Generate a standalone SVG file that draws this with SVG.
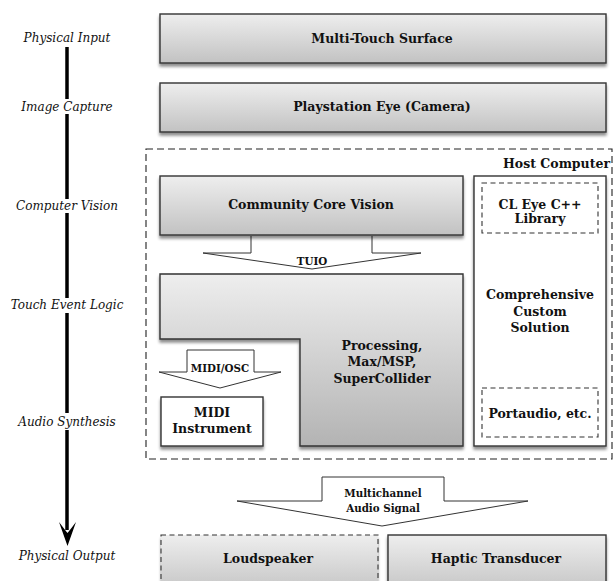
<svg xmlns="http://www.w3.org/2000/svg" width="616" height="581" viewBox="0 0 616 581">
<defs>
<linearGradient id="g" x1="0" y1="0" x2="0" y2="1">
<stop offset="0" stop-color="#eeeeee"/>
<stop offset="1" stop-color="#c2c2c2"/>
</linearGradient>
<linearGradient id="g2" x1="0" y1="0" x2="0" y2="1">
<stop offset="0" stop-color="#eeeeee"/>
<stop offset="1" stop-color="#b3b3b3"/>
</linearGradient>
<filter id="sh" x="-5%" y="-10%" width="110%" height="130%">
<feGaussianBlur in="SourceAlpha" stdDeviation="1.6"/>
<feOffset dx="0" dy="2.5" result="b"/>
<feComponentTransfer><feFuncA type="linear" slope="0.45"/></feComponentTransfer>
<feMerge><feMergeNode/><feMergeNode in="SourceGraphic"/></feMerge>
</filter>
</defs>
<style>
.box{fill:url(#g);stroke:#333;stroke-width:1.4;filter:url(#sh)}
.wbox{fill:#ffffff;stroke:#333;stroke-width:1.4;filter:url(#sh)}
.dash{fill:none;stroke:#333;stroke-width:1.1;stroke-dasharray:5 3.5}
.blk{fill:#ffffff;stroke:#333;stroke-width:1}
.t{font-family:"DejaVu Serif",serif;font-weight:bold;font-size:12.5px;fill:#111;text-anchor:middle}
.s{font-family:"DejaVu Serif",serif;font-weight:bold;font-size:10.3px;fill:#111;text-anchor:middle}
.lab{font-family:"DejaVu Serif",serif;font-style:italic;font-size:12px;fill:#111;text-anchor:middle}
.ax{stroke:#000;stroke-width:3.5;fill:none}
</style>

<g id="stage-labels">
<text class="lab" x="67" y="42">Physical Input</text>
<text class="lab" x="67" y="111">Image Capture</text>
<text class="lab" x="67" y="210">Computer Vision</text>
<text class="lab" x="67" y="309">Touch Event Logic</text>
<text class="lab" x="67" y="426">Audio Synthesis</text>
<text class="lab" x="67" y="560">Physical Output</text>
</g>

<g id="connectors">
<line class="ax" x1="67" y1="47" x2="67" y2="99"/>
<line class="ax" x1="67" y1="114" x2="67" y2="199"/>
<line class="ax" x1="67" y1="213" x2="67" y2="298"/>
<line class="ax" x1="67" y1="313" x2="67" y2="413"/>
<line class="ax" x1="67" y1="430" x2="67" y2="530"/>
<path d="M67.5,546 L59,522 Q65,530 67.5,533 Q70,530 76,522 Z" fill="#000"/>
<path class="blk" d="M251,236 V253 H203 L312,269 L421,253 H372 V236"/>
<path class="blk" d="M187,350 H254 V372 H281 L220,388 L159,372 H187 Z"/>
<path class="blk" d="M322,477 H444 V501 H528 L382,526 L237,501 H322 Z"/>
<text class="s" x="312" y="265">TUIO</text>
<text class="s" x="220" y="372">MIDI/OSC</text>
<text class="s" x="383" y="497">Multichannel</text>
<text class="s" x="383" y="512">Audio Signal</text>
</g>

<g id="multi-touch">
<rect class="box" x="160" y="14" width="446" height="49"/>
<text class="t" x="382" y="43">Multi-Touch Surface</text>
</g>
<g id="playstation-eye">
<rect class="box" x="160" y="83" width="446" height="49"/>
<text class="t" x="382" y="111">Playstation Eye (Camera)</text>
</g>

<g id="host-computer">
<rect x="146" y="149" width="466" height="310" fill="none" stroke="#222" stroke-width="1.1" stroke-dasharray="7 4"/>
<text class="t" x="610" y="168" style="text-anchor:end">Host Computer</text>
</g>

<g id="ccv">
<rect class="box" x="160" y="176" width="303" height="59"/>
<text class="t" x="311" y="209">Community Core Vision</text>
</g>

<g id="processing">
<path class="box" style="fill:url(#g2)" d="M160,274 H463 V446 H300 V339 H160 Z"/>
<text class="t" x="382" y="350">Processing,</text>
<text class="t" x="382" y="366">Max/MSP,</text>
<text class="t" x="382" y="383">SuperCollider</text>
</g>

<g id="midi-instrument">
<rect class="wbox" x="161" y="397" width="102" height="49"/>
<text class="t" x="212" y="417">MIDI</text>
<text class="t" x="212" y="433">Instrument</text>
</g>

<g id="custom-solution">
<rect class="wbox" x="474" y="176" width="132" height="270"/>
<text class="t" x="540" y="299">Comprehensive</text>
<text class="t" x="540" y="316">Custom</text>
<text class="t" x="540" y="332">Solution</text>
</g>
<g id="cl-eye">
<rect class="dash" x="482" y="183" width="116" height="50"/>
<text class="t" x="540" y="209">CL Eye C++</text>
<text class="t" x="540" y="223">Library</text>
</g>
<g id="portaudio">
<rect class="dash" x="482" y="388" width="116" height="49"/>
<text class="t" x="540" y="418">Portaudio, etc.</text>
</g>

<g id="loudspeaker">
<rect x="161" y="535" width="217" height="60" fill="url(#g)" style="filter:url(#sh)"/>
<rect class="dash" x="161" y="535" width="217" height="60"/>
<text class="t" x="268" y="563">Loudspeaker</text>
</g>
<g id="haptic">
<rect class="box" x="388" y="535" width="218" height="60"/>
<text class="t" x="496" y="563">Haptic Transducer</text>
</g>
</svg>
